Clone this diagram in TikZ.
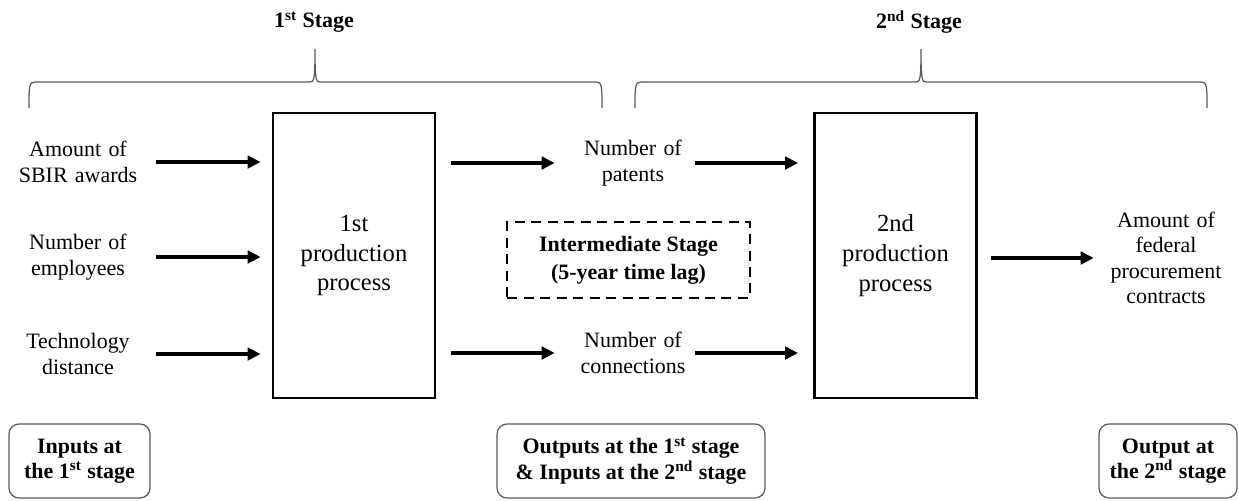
\documentclass[tikz,border=0pt]{standalone}
\usepackage{fontspec}
\setmainfont{Liberation Serif}
\usetikzlibrary{arrows.meta, positioning}
\definecolor{bracegray}{rgb}{0.35,0.35,0.35}

\begin{document}
\begin{tikzpicture}[x=0.02cm, y=-0.02cm,
    lbl/.style={text width=2.5cm, align=center, inner sep=0pt, font=\fontsize{12.5}{14.5}\selectfont},
    proc/.style={draw, line width=1.6pt, minimum width=3.24cm, minimum height=5.7cm, align=center, font=\fontsize{14}{17}\selectfont},
    lagbox/.style={draw, line width=1.2pt, dash pattern=on 0.2cm off 0.13cm, minimum width=4.86cm, minimum height=1.52cm, align=center, font=\bfseries\fontsize{12.5}{16}\selectfont},
    note/.style={draw=bracegray, line width=0.7pt, rounded corners=0.2cm, minimum height=1.48cm, align=center, font=\bfseries\fontsize{12.5}{14.5}\selectfont},
    flow/.style={line width=1.8pt, -{Triangle[length=0.26cm, width=0.25cm]}}]
    \useasboundingbox (0,0) rectangle (1239,500);

    % BRACES OVER THE TWO STAGES
    \foreach \l/\m/\r in {29/315/602, 635/921/1207}
        \draw[bracegray, line width=0.7pt] (\l,108) .. controls (\l,86) and (\l,82) .. (\l+6,82) -- (\m-5,82)
            .. controls (\m-1,82) and (\m,80) .. (\m,49) .. controls (\m,80) and (\m+1,82) .. (\m+5,82)
            -- (\r-6,82) .. controls (\r,82) and (\r,86) .. (\r,108);

    \node[font=\bfseries\fontsize{12.5}{14.5}\selectfont] (stage1) at (314,22) {1\textsuperscript{st} Stage};
    \node[font=\bfseries\fontsize{12.5}{14.5}\selectfont] (stage2) at (919,22) {2\textsuperscript{nd} Stage};

    % PRODUCTION PROCESSES
    \node[proc] (proc1) at (354,255.5) {1st\\production\\process};
    \node[proc] (proc2) at (895.5,255.5) {2nd\\production\\process};
    \node[lagbox] (lag) at (628.5,260) {Intermediate Stage\\(5-year time lag)};

    % INPUTS AT THE 1ST STAGE
    \foreach \i/\y/\t in {
        1/162/{Amount of\\SBIR awards},
        2/257/{Number of\\employees},
        3/354/{Technology\\distance}}
        \node[lbl] (in\i) at (78,\y) {\t};
    \foreach \i in {1,2,3}
        \draw[flow, shorten <=0.31cm, shorten >=0.22cm] (in\i.east) -- (in\i.east -| proc1.west);

    % OUTPUTS AT THE 1ST STAGE & INPUTS AT THE 2ND STAGE
    \foreach \i/\y/\t in {
        1/163/{Number of\\patents},
        2/353/{Number of\\connections}}
        \node[lbl, text width=2.4cm] (out\i) at (633,\y) {\t};
    \foreach \i in {1,2} {
        \draw[flow, shorten <=0.3cm, shorten >=0.36cm] (proc1.east |- out\i) -- (out\i.west);
        \draw[flow, shorten <=0.04cm, shorten >=0.3cm] (out\i.east) -- (out\i.east -| proc2.west);
    }

    % OUTPUT AT THE 2ND STAGE
    \node[lbl] (final) at (1166,258) {Amount of\\federal\\procurement\\contracts};
    \draw[flow, shorten <=0.26cm, shorten >=0.19cm] (proc2.east |- final) -- (final.west);

    % NOTES AT THE BOTTOM
    \node[note, minimum width=2.82cm] (note1) at (79.5,461) {Inputs at\\the 1\textsuperscript{st} stage};
    \node[note, minimum width=5.36cm] (note2) at (631,461) {Outputs at the 1\textsuperscript{st} stage\\\& Inputs at the 2\textsuperscript{nd} stage};
    \node[note, minimum width=2.76cm] (note3) at (1168,461) {Output at\\the 2\textsuperscript{nd} stage};
\end{tikzpicture}
\end{document}
